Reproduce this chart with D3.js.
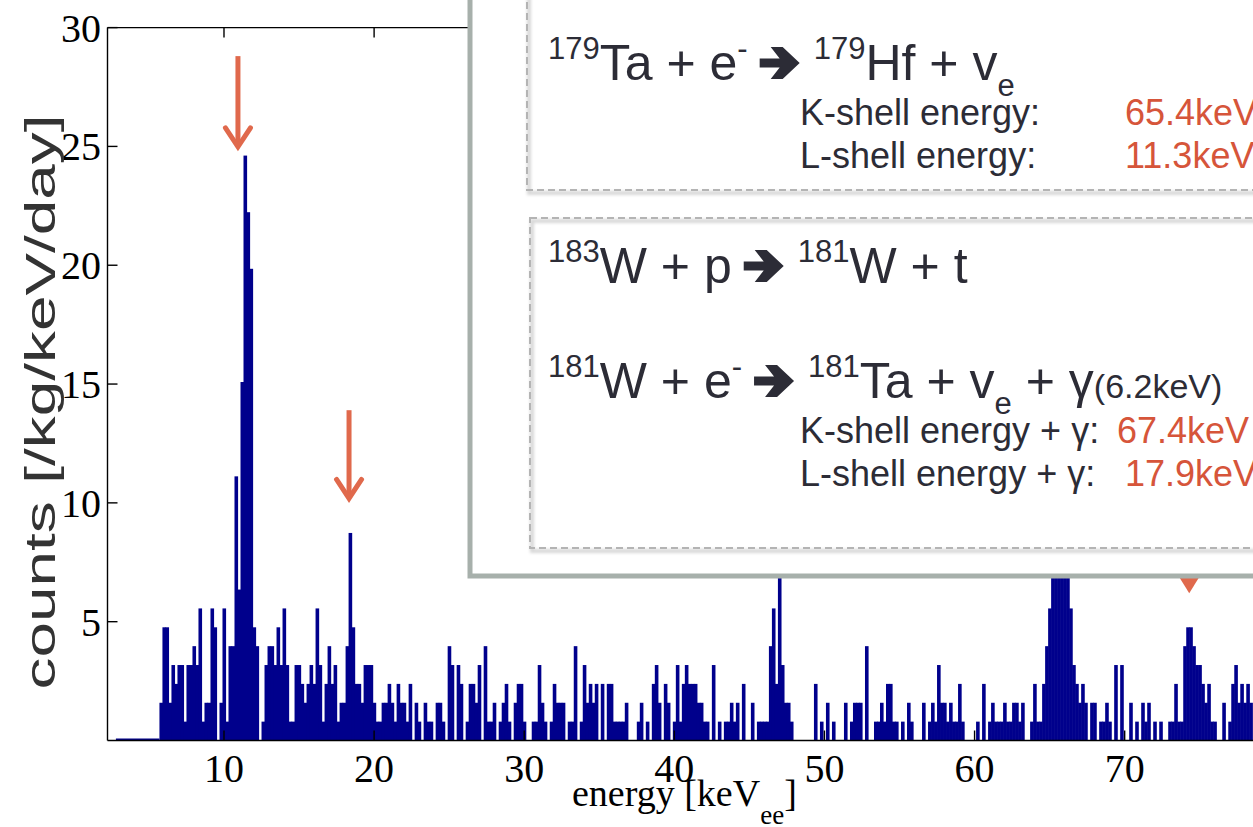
<!DOCTYPE html>
<html><head><meta charset="utf-8">
<script src="https://cdn.jsdelivr.net/npm/d3@7"></script>
<style>body{margin:0;background:#fff}svg{display:block}text{white-space:pre}</style>
</head><body>
<svg id="c" width="1253" height="827"></svg>
<script>
// ---------------- data ----------------
const binStart = 5.7;      // keV, left edge of the first filled bin
const binWidth = 0.2;      // keV
const zeroRunStart = 2.8;  // keV, empty bins drawn as a baseline before binStart
const countRate = 0.794;   // [/kg/keV/day] for one event in a bin
const counts = [
  2,6,6,2,4,3,4,4,1,4,4,5,4,7,1,2,2,7,6,0,2,7,1,5,5,
  14,8,19,31,28,25,
  6,5,0,1,4,5,5,4,6,4,7,4,1,1,4,4,3,2,3,4,3,7,4,1,3,5,3,4,1,2,2,5,11,6,3,3,
  2,4,4,4,2,1,1,2,2,3,2,1,3,2,2,1,3,0,2,1,0,2,1,1,0,2,2,1,0,5,4,0,4,3,0,1,3,3,2,4,0,5,1,1,2,0,1,2,3,1,0,2,3,3,1,0,0,1,1,4,2,1,0,1,3,2,2,2,0,1,1,5,0,1,4,2,3,2,3,0,
  3,0,3,3,1,1,1,1,2,0,0,0,1,2,0,1,0,3,4,2,0,3,2,0,1,4,1,3,4,3,3,3,2,2,1,1,0,4,0,1,0,1,1,2,1,2,0,3,0,0,2,0,1,1,1,1,5,7,3,10,4,2,2,1,0,0,0,0,0,0,0,3,0,1,0,2,0,1,0,0,
  0,2,0,1,2,2,2,0,5,0,0,1,1,2,1,3,3,1,1,0,1,0,2,1,0,0,0,2,0,1,2,1,4,2,2,1,2,1,1,3,1,0,0,0,0,1,0,3,0,1,2,1,1,1,2,1,1,2,2,1,2,0,0,1,3,1,1,3,5,7,10,13,15,14,12,10,7,4,
  3,2,3,2,0,2,2,0,1,1,2,1,0,4,0,4,0,0,2,0,1,0,2,1,2,0,1,0,1,0,0,1,1,3,1,1,5,6,6,5,4,4,3,2,3,1,1,0,0,2,0,1,3,4,2,3,2,3,2
];
const xTicks = [10, 20, 30, 40, 50, 60, 70];
const yTicks = [5, 10, 15, 20, 25, 30];
// open arrows: [energy keV, tail value, tip value]
const openArrows = [[10.93, 28.8, 24.9], [18.33, 13.9, 10.1]];
// filled arrow partly hidden behind the inset: [energy, tail, tip]
const filledArrows = [[74.3, 9.5, 6.2]];

// ---------------- scales ----------------
const svg = d3.select("#c");
const x = d3.scaleLinear().domain([2.24, 80]).range([107.5, 1274.8]);
const y = d3.scaleLinear().domain([0, 30]).range([740.5, 27.6]);
const navy = "#00008c", orange = "#e0694c";

const bins = counts.map((c, i) => ({x0: binStart + i * binWidth, x1: binStart + (i + 1) * binWidth, v: c * countRate}));

// bars
svg.append("g").selectAll("rect").data(bins.filter(d => d.v > 0)).join("rect")
  .attr("x", d => x(d.x0)).attr("width", d => x(d.x1) - x(d.x0) + 0.6)
  .attr("y", d => y(d.v)).attr("height", d => y(0) - y(d.v))
  .attr("fill", navy);
// empty run before the first filled bin
svg.append("line").attr("x1", x(zeroRunStart)).attr("x2", x(binStart))
  .attr("y1", y(0) - 1.2).attr("y2", y(0) - 1.2).attr("stroke", navy).attr("stroke-width", 1.5);

// axes frame
const ax = svg.append("g").attr("stroke", "#000").attr("stroke-width", 1.4).attr("fill", "none");
ax.append("line").attr("x1", x.range()[0]).attr("x2", 1253).attr("y1", y(0)).attr("y2", y(0));
ax.append("line").attr("x1", x.range()[0]).attr("x2", 1253).attr("y1", y(30)).attr("y2", y(30));
ax.append("line").attr("x1", x.range()[0]).attr("x2", x.range()[0]).attr("y1", y(0)).attr("y2", y(30));
yTicks.forEach(t => ax.append("line").attr("x1", x.range()[0]).attr("x2", x.range()[0] + 10).attr("y1", y(t)).attr("y2", y(t)));
xTicks.forEach(t => {
  ax.append("line").attr("x1", x(t)).attr("x2", x(t)).attr("y1", y(0)).attr("y2", y(0) - 10);
  ax.append("line").attr("x1", x(t)).attr("x2", x(t)).attr("y1", y(30)).attr("y2", y(30) + 10);
});

// tick labels
const serif = "'Liberation Serif','Times New Roman',serif";
svg.append("g").selectAll("text").data(xTicks).join("text")
  .attr("x", d => x(d)).attr("y", 782).attr("text-anchor", "middle")
  .attr("font-family", serif).attr("font-size", 40).attr("fill", "#000").text(d => d);
svg.append("g").selectAll("text").data(yTicks).join("text")
  .attr("x", 101).attr("y", d => y(d)).attr("dy", "0.35em").attr("text-anchor", "end")
  .attr("font-family", serif).attr("font-size", 40).attr("fill", "#000").text(d => d);

// axis titles
const xl = svg.append("text").attr("x", 572).attr("y", 806).attr("font-family", serif).attr("font-size", 38).attr("fill", "#000");
xl.append("tspan").text("energy [keV");
xl.append("tspan").attr("font-size", 27).attr("dy", 18).text("ee");
xl.append("tspan").attr("dy", -18).text("]");
svg.append("text").attr("transform", "translate(55,402) rotate(-90)").attr("text-anchor", "middle")
  .attr("font-family", "'Liberation Sans',Arial,sans-serif").attr("font-size", 42).attr("fill", "#333")
  .attr("textLength", 575).attr("lengthAdjust", "spacingAndGlyphs").text("counts [/kg/keV/day]");

// arrows
openArrows.forEach(([e, t0, t1]) => {
  const g = svg.append("g").attr("stroke", orange).attr("stroke-width", 5).attr("fill", "none");
  g.append("line").attr("x1", x(e)).attr("x2", x(e)).attr("y1", y(t0)).attr("y2", y(t1) - 3);
  g.append("path").attr("d", `M${x(e) - 12.5},${y(t1) - 21}L${x(e)},${y(t1) - 2}L${x(e) + 12.5},${y(t1) - 21}`)
    .attr("stroke-linejoin", "miter").attr("stroke-linecap", "round");
});
filledArrows.forEach(([e, t0, t1]) => {
  svg.append("line").attr("x1", x(e)).attr("x2", x(e)).attr("y1", y(t0)).attr("y2", y(t1) - 15)
    .attr("stroke", orange).attr("stroke-width", 6);
  svg.append("path").attr("d", `M${x(e) - 13},${y(t1) - 21}L${x(e) + 13},${y(t1) - 21}L${x(e)},${y(t1)}Z`).attr("fill", orange);
});

// ---------------- inset ----------------
const defs = svg.append("defs");
defs.append("filter").attr("id", "blur").append("feGaussianBlur").attr("stdDeviation", 1.5);
svg.append("rect").attr("x", 470).attr("y", -20).attr("width", 900).attr("height", 596)
  .attr("fill", "#fff").attr("stroke", "#a7b0ab").attr("stroke-width", 5);
[[527, -20, 800, 210], [530, 218, 800, 330]].forEach(([bx, by, bw, bh]) => {
  svg.append("rect").attr("x", bx + 2).attr("y", by + 3).attr("width", bw).attr("height", bh)
    .attr("fill", "none").attr("stroke", "#d8d8d8").attr("stroke-width", 4).attr("filter", "url(#blur)");
  svg.append("rect").attr("x", bx).attr("y", by).attr("width", bw).attr("height", bh)
    .attr("fill", "none").attr("stroke", "#b4b4b4").attr("stroke-width", 2).attr("stroke-dasharray", "7,4");
});

const sans = "'Liberation Sans',Arial,sans-serif";
const ink = "#2c2c36", red = "#d6553a";
// heavy right arrow, drawn as a path (width 40)
function heavyArrow(x0, yb) {
  const c = yb - 17;
  const pts = [[0,-4.5],[20,-4.5],[11,-16],[23,-16],[40,0],[23,16],[11,16],[20,4.5],[0,4.5]];
  svg.append("path").attr("d", "M" + pts.map(p => [x0 + p[0], c + p[1]].join(",")).join("L") + "Z").attr("fill", ink);
}
function eq(x0, yb, parts) {
  let cx = x0;
  parts.forEach(p => {
    if (p.arrow) { cx += 12; heavyArrow(cx, yb); cx += 40 + 14; return; }
    let dy = 0, size = 50;
    if (p.sup) { dy = -21; size = 31; }
    if (p.sub) { dy = 16; size = 31; }
    if (p.small) { size = 34; }
    const t = svg.append("text").attr("x", cx).attr("y", yb + dy).attr("font-family", sans)
      .attr("font-size", size).attr("fill", ink).text(p.t);
    cx += t.node().getComputedTextLength();
  });
}
eq(548, 80, [{t: "179", sup: 1}, {t: "Ta + e"}, {t: "-", sup: 1}, {arrow: 1}, {t: "179", sup: 1}, {t: "Hf + v"}, {t: "e", sub: 1}]);
eq(548, 283, [{t: "183", sup: 1}, {t: "W + p"}, {arrow: 1}, {t: "181", sup: 1}, {t: "W + t"}]);
eq(548, 398, [{t: "181", sup: 1}, {t: "W + e"}, {t: "-", sup: 1}, {arrow: 1}, {t: "181", sup: 1}, {t: "Ta + v"}, {t: "e", sub: 1}, {t: " + γ"}, {t: "(6.2keV)", small: 1}]);

const shells = [
  ["K-shell energy:", "65.4keV", 125, 1125],
  ["L-shell energy:", "11.3keV", 168, 1125],
  ["K-shell energy + γ:", "67.4keV", 443, 1117],
  ["L-shell energy + γ:", "17.9keV", 486, 1125]
];
shells.forEach(([lab, val, yy, vx]) => {
  svg.append("text").attr("x", 800).attr("y", yy).attr("font-family", sans).attr("font-size", 36).attr("fill", ink).text(lab);
  svg.append("text").attr("x", vx).attr("y", yy).attr("font-family", sans).attr("font-size", 36).attr("fill", red).text(val);
});
</script>
</body></html>
